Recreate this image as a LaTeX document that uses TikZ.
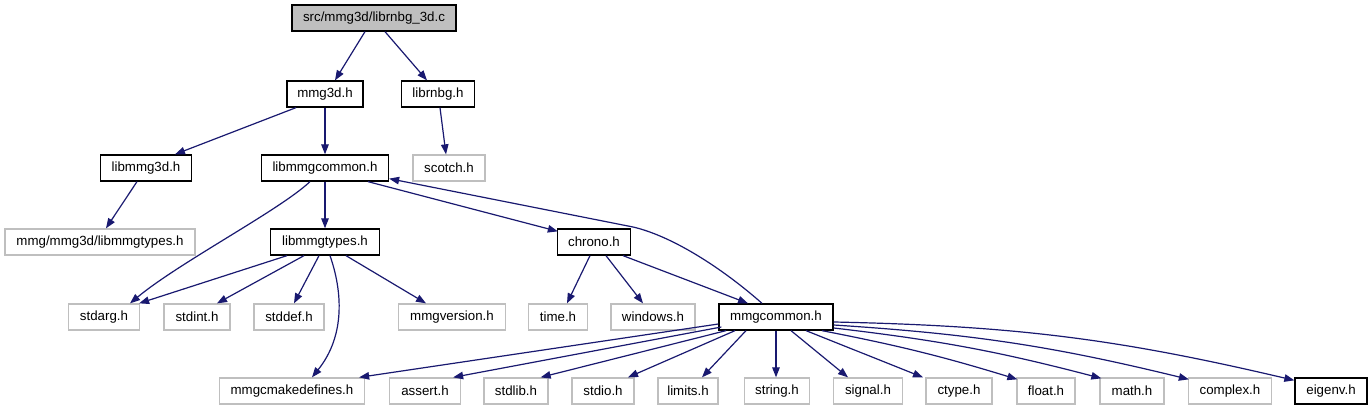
\documentclass[tikz,border=0pt]{standalone}
\usepackage{fontspec}
\setmainfont{Liberation Sans}
\usetikzlibrary{arrows.meta}
\definecolor{edgeblue}{HTML}{191970}
\definecolor{grey75}{HTML}{BFBFBF}
\begin{document}
\begin{tikzpicture}[x=1pt,y=-1pt,
  every node/.style={font=\fontsize{13.3pt}{15pt}\selectfont, inner sep=0pt, minimum height=26pt, line width=1.3pt},
  blk/.style={draw=black, fill=white},
  gry/.style={draw=grey75, fill=white},
  cur/.style={draw=black, fill=grey75},
  dep/.style={draw=edgeblue, line width=1.2pt, -{Triangle[length=10pt,width=7.5pt]}}
]
\useasboundingbox[fill=white] (0,0) rectangle (1369,411);
% row 1
\node[cur, minimum width=164pt] (top) at (374,18) {src/mmg3d/librnbg\_3d.c};
% row 2
\node[blk, minimum width=76pt] (mmg3d) at (325,94) {mmg3d.h};
\node[blk, minimum width=73pt] (librnbg) at (438,94) {librnbg.h};
% row 3
\node[blk, minimum width=91pt] (libmmg3d) at (146,168) {libmmg3d.h};
\node[blk, minimum width=127pt] (lc) at (325,168) {libmmgcommon.h};
\node[gry, minimum width=72pt] (scotch) at (449,168) {scotch.h};
% row 4
\node[gry, minimum width=190pt] (mt3) at (100,242) {mmg/mmg3d/libmmgtypes.h};
\node[blk, minimum width=109pt] (lt) at (325,242) {libmmgtypes.h};
\node[blk, minimum width=73pt] (chrono) at (594,242) {chrono.h};
% row 5
\node[gry, minimum width=71pt] (stdarg) at (104,317) {stdarg.h};
\node[gry, minimum width=66pt] (stdint) at (197,317) {stdint.h};
\node[gry, minimum width=70pt] (stddef) at (289,317) {stddef.h};
\node[gry, minimum width=107pt] (mmgversion) at (452,317) {mmgversion.h};
\node[gry, minimum width=59pt] (time) at (558,317) {time.h};
\node[gry, minimum width=84pt] (windows) at (653,317) {windows.h};
\node[blk, minimum width=114pt] (mc) at (776,317) {mmgcommon.h};
% row 6
\node[gry, minimum width=145pt] (mcd) at (292,391) {mmgcmakedefines.h};
\node[gry, minimum width=71pt] (assert) at (425,391) {assert.h};
\node[gry, minimum width=64pt] (stdlib) at (516,391) {stdlib.h};
\node[gry, minimum width=62pt] (stdio) at (603,391) {stdio.h};
\node[gry, minimum width=60pt] (limits) at (688,391) {limits.h};
\node[gry, minimum width=65pt] (string) at (777,391) {string.h};
\node[gry, minimum width=69pt] (signal) at (868,391) {signal.h};
\node[gry, minimum width=66pt] (ctype) at (959,391) {ctype.h};
\node[gry, minimum width=58pt] (float) at (1046,391) {float.h};
\node[gry, minimum width=64pt] (math) at (1132,391) {math.h};
\node[gry, minimum width=83pt] (complex) at (1230,391) {complex.h};
\node[blk, minimum width=72pt] (eigenv) at (1331,391) {eigenv.h};

% edges
\draw[dep] ([xshift=-9pt]top.south) -- ([xshift=10pt]mmg3d.north);
\draw[dep] ([xshift=11pt]top.south) -- ([xshift=-11pt]librnbg.north);
\draw[dep] ([xshift=-29pt]mmg3d.south) -- ([xshift=29pt]libmmg3d.north);
\draw[dep] (mmg3d.south) -- (lc.north);
\draw[dep] ([xshift=2pt]librnbg.south) -- ([xshift=-3pt]scotch.north);
\draw[dep] ([xshift=-9pt]libmmg3d.south) -- ([xshift=6pt]mt3.north);
\draw[dep] (lc.south) -- (lt.north);
\draw[dep] ([xshift=-15pt]lc.south) .. controls (280,210) and (180,262) .. ([xshift=26pt]stdarg.north);
\draw[dep] ([xshift=43pt]lc.south) -- ([xshift=1pt,yshift=-3pt]chrono.north west);
\draw[dep] ([xshift=-14pt]mc.north) .. controls (722,268) and (672,236) .. (633,227) -- ([yshift=3pt]lc.south east);
\draw[dep] ([xshift=-38pt]lt.south) -- ([xshift=-1pt]stdarg.north east);
\draw[dep] ([xshift=-21pt]lt.south) -- ([xshift=20pt]stdint.north);
\draw[dep] ([xshift=-6pt]lt.south) -- ([xshift=5pt]stddef.north);
\draw[dep] ([xshift=5pt]lt.south) .. controls (342,290) and (346,335) .. ([xshift=20pt]mcd.north);
\draw[dep] ([xshift=21pt]lt.south) -- ([xshift=-26pt]mmgversion.north);
\draw[dep] ([xshift=-4pt]chrono.south) -- ([xshift=9pt]time.north);
\draw[dep] ([xshift=12pt]chrono.south) -- ([xshift=-10pt]windows.north);
\draw[dep] ([xshift=29pt]chrono.south) -- ([xshift=-28pt]mc.north);
\draw[dep] ([yshift=-7pt]mc.west) -- ([xshift=-6pt]mcd.north east);
\draw[dep] ([xshift=3pt,yshift=-10pt]mc.west) -- ([xshift=-8pt]assert.north east);
\draw[dep] ([xshift=-50pt]mc.south) -- ([xshift=-8pt]stdlib.north east);
\draw[dep] ([xshift=-41pt]mc.south) -- ([xshift=25pt]stdio.north);
\draw[dep] ([xshift=-30pt]mc.south) -- ([xshift=14pt]limits.north);
\draw[dep] (mc.south) -- (mc.south |- string.north);
\draw[dep] ([xshift=15pt]mc.south) -- ([xshift=-20pt]signal.north);
\draw[dep] ([xshift=30pt]mc.south) -- ([xshift=-36pt]ctype.north);
\draw[dep] ([xshift=46pt]mc.south) to[bend left=3] ([xshift=1pt,yshift=-2pt]float.north west);
\draw[dep] ([yshift=-11pt]mc.east) to[bend left=4] ([xshift=2pt,yshift=-1pt]math.north west);
\draw[dep] ([yshift=-8pt]mc.east) to[bend left=5] ([xshift=1pt,yshift=-2pt]complex.north west);
\draw[dep] ([yshift=-5pt]mc.east) to[bend left=6] ([yshift=-3pt]eigenv.north west);
\end{tikzpicture}
\end{document}
